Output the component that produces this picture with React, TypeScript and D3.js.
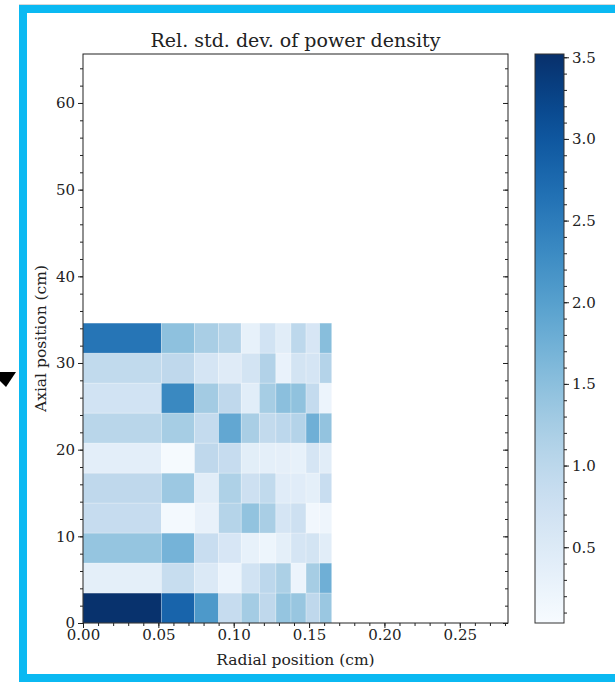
import React, { useEffect, useRef } from 'react';
import * as d3 from 'd3';

// bin edges
const radialEdges = [0, 0.052, 0.074, 0.090, 0.105, 0.117, 0.128, 0.138, 0.148, 0.157, 0.165];
const axialEdges = [0, 3.46, 6.92, 10.38, 13.84, 17.3, 20.76, 24.22, 27.68, 31.14, 34.6];

// rel. std. dev. per cell, one array per axial row, bottom row first
const row1 = [3.5, 2.82, 2.1, 0.87, 1.27, 0.97, 1.41, 1.38, 0.97, 1.36];
const row2 = [0.37, 0.85, 0.53, 0.22, 0.7, 1.0, 1.18, 0.22, 1.25, 1.76];
const row3 = [1.41, 1.7, 0.84, 0.6, 0.32, 0.21, 0.37, 0.64, 0.67, 0.42];
const row4 = [0.87, 0.1, 0.3, 1.08, 1.44, 1.22, 0.64, 0.77, 0.14, 0.2];
const row5 = [0.97, 1.34, 0.42, 1.16, 0.77, 0.94, 0.44, 0.44, 0.36, 0.84];
const row6 = [0.38, 0.07, 0.97, 0.87, 0.4, 0.37, 0.35, 0.32, 0.64, 0.42];
const row7 = [1.04, 1.25, 0.9, 1.88, 1.22, 0.93, 1.0, 1.1, 1.76, 1.43];
const row8 = [0.7, 2.33, 1.28, 0.97, 0.42, 1.25, 1.5, 1.46, 0.9, 0.22];
const row9 = [0.94, 0.97, 0.63, 0.46, 0.67, 1.12, 0.28, 0.66, 0.64, 1.1];
const row10 = [2.6, 1.47, 1.22, 1.08, 0.31, 0.7, 0.42, 0.99, 0.6, 1.53];
const rows = [row1, row2, row3, row4, row5, row6, row7, row8, row9, row10];

const xTicks = [0, 0.05, 0.1, 0.15, 0.2, 0.25];
const yTicks = [0, 10, 20, 30, 40, 50, 60];
const cbTicks = [0.5, 1.0, 1.5, 2.0, 2.5, 3.0, 3.5];
const colorDomain = [0.036, 3.52];

const FONT = '"DejaVu Serif", serif';
const TICK_FS = 15;
const LABEL_FS = 15.5;

export default function App() {
  const ref = useRef<SVGSVGElement>(null);

  useEffect(() => {
    const svg = d3.select(ref.current);
    svg.selectAll('*').remove();

    const left = 83, right = 508, top = 54, bottom = 623;
    const x = d3.scaleLinear().domain([0, 0.282]).range([left, right]);
    const y = d3.scaleLinear().domain([0, 65.65]).range([bottom, top]);
    const color = d3.scaleSequential(d3.interpolateBlues).domain(colorDomain);

    // frame
    svg.append('line').attr('x1', 19).attr('x2', 615).attr('y1', 4.5).attr('y2', 4.5)
      .attr('stroke', '#d8d8d8').attr('stroke-width', 1);
    svg.append('rect').attr('x', 23).attr('y', 9).attr('width', 610).attr('height', 669)
      .attr('fill', 'none').attr('stroke', '#0bb9f2').attr('stroke-width', 8);

    // arrow head on the left
    svg.append('path').attr('d', 'M0,372 L16,372 L6,387 L0,381 Z').attr('fill', '#000');

    // cells
    const cells = svg.append('g');
    rows.forEach((row, j) => {
      row.forEach((v, i) => {
        cells.append('rect')
          .attr('x', x(radialEdges[i]))
          .attr('y', y(axialEdges[j + 1]))
          .attr('width', x(radialEdges[i + 1]) - x(radialEdges[i]))
          .attr('height', y(axialEdges[j]) - y(axialEdges[j + 1]))
          .attr('fill', color(v))
          .attr('stroke', '#ffffff')
          .attr('stroke-opacity', 0.3)
          .attr('stroke-width', 0.8);
      });
    });

    // axes
    const styleAxis = (g: any) => {
      g.select('.domain').remove();
      g.selectAll('line').attr('stroke', '#222');
      g.selectAll('text').attr('font-family', FONT).attr('font-size', TICK_FS).attr('fill', '#222');
    };
    const noLabel = () => '';

    svg.append('g').attr('transform', `translate(0,${bottom})`)
      .call(d3.axisBottom(x).tickValues(d3.range(0, 0.2805, 0.01)).tickSize(3).tickFormat(noLabel))
      .call(styleAxis);
    svg.append('g').attr('transform', `translate(0,${bottom})`)
      .call(d3.axisBottom(x).tickValues(xTicks).tickSize(5).tickPadding(1).tickFormat(d3.format('.2f')))
      .call(styleAxis);

    svg.append('g').attr('transform', `translate(${left},0)`)
      .call(d3.axisLeft(y).tickValues(d3.range(0, 65, 2)).tickSize(3).tickFormat(noLabel))
      .call(styleAxis);
    svg.append('g').attr('transform', `translate(${left},0)`)
      .call(d3.axisLeft(y).tickValues(yTicks).tickSize(5).tickPadding(3).tickFormat(d3.format('d')))
      .call(styleAxis);

    // inward ticks on the right spine
    svg.append('g').attr('transform', `translate(${right},0)`)
      .call(d3.axisLeft(y).tickValues(d3.range(0, 65, 2)).tickSize(3).tickFormat(noLabel))
      .call(styleAxis);
    svg.append('g').attr('transform', `translate(${right},0)`)
      .call(d3.axisLeft(y).tickValues(yTicks).tickSize(5).tickFormat(noLabel))
      .call(styleAxis);

    // spines
    svg.append('rect').attr('x', left).attr('y', top).attr('width', right - left).attr('height', bottom - top)
      .attr('fill', 'none').attr('stroke', '#222').attr('stroke-width', 1);

    // labels
    svg.append('text').attr('x', (left + right) / 2).attr('y', 47).attr('text-anchor', 'middle')
      .attr('font-family', FONT).attr('font-size', 19).attr('fill', '#222')
      .text('Rel. std. dev. of power density');
    svg.append('text').attr('x', (left + right) / 2).attr('y', 665).attr('text-anchor', 'middle')
      .attr('font-family', FONT).attr('font-size', LABEL_FS).attr('fill', '#222')
      .text('Radial position (cm)');
    svg.append('text').attr('transform', `translate(46,${(top + bottom) / 2}) rotate(-90)`)
      .attr('text-anchor', 'middle')
      .attr('font-family', FONT).attr('font-size', LABEL_FS).attr('fill', '#222')
      .text('Axial position (cm)');

    // colorbar
    const cbL = 535, cbR = 564;
    const cy = d3.scaleLinear().domain(colorDomain).range([bottom, top]);
    const grad = svg.append('defs').append('linearGradient').attr('id', 'cbgrad')
      .attr('x1', 0).attr('x2', 0).attr('y1', 1).attr('y2', 0);
    d3.range(0, 1.0001, 0.05).forEach(t => {
      grad.append('stop').attr('offset', t).attr('stop-color', d3.interpolateBlues(t));
    });
    svg.append('rect').attr('x', cbL).attr('y', top).attr('width', cbR - cbL).attr('height', bottom - top)
      .attr('fill', 'url(#cbgrad)').attr('stroke', '#333').attr('stroke-width', 1);
    svg.append('g').attr('transform', `translate(${cbR},0)`)
      .call(d3.axisRight(cy).tickValues(d3.range(0.1, 3.51, 0.1)).tickSize(3).tickFormat(noLabel))
      .call(styleAxis);
    svg.append('g').attr('transform', `translate(${cbR},0)`)
      .call(d3.axisRight(cy).tickValues(cbTicks).tickSize(5).tickPadding(3).tickFormat(d3.format('.1f')))
      .call(styleAxis);
  }, []);

  return (
    <svg ref={ref} width={615} height={682}
      style={{ position: 'absolute', left: 0, top: 0, background: '#fff' }} />
  );
}
